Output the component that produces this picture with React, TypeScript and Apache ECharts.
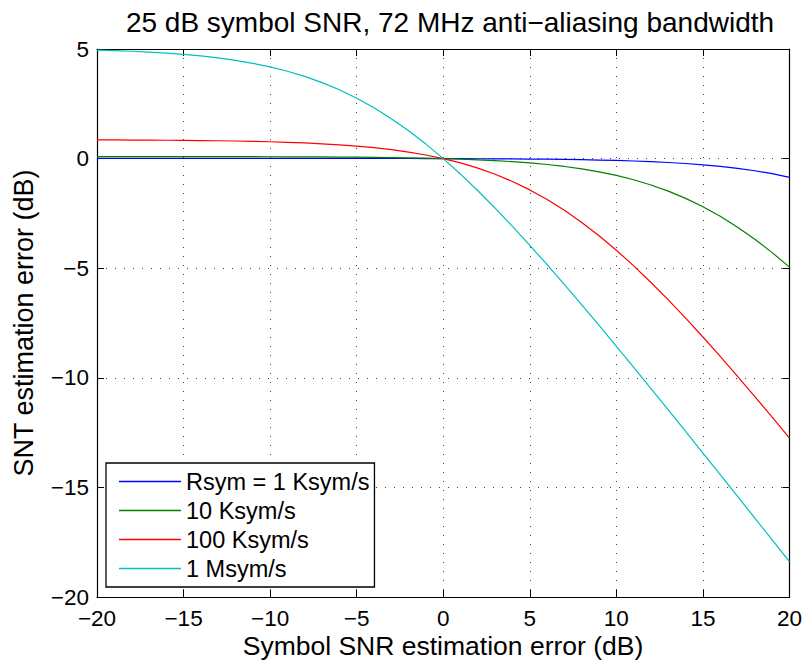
import React, { useEffect, useRef } from "react";
import * as echarts from "echarts";

const titleText = "25 dB symbol SNR, 72 MHz anti\u2212aliasing bandwidth";
const xName = "Symbol SNR estimation error (dB)";
const yName = "SNT estimation error (dB)";

const seriesNames = ["Rsym = 1 Ksym/s", "10 Ksym/s", "100 Ksym/s", "1 Msym/s"];
const seriesColors = ["#0000ff", "#008000", "#ff0000", "#00bfbf"];

const xs = [
  -20, -19, -18, -17, -16, -15, -14, -13, -12, -11, -10, -9, -8, -7, -6, -5, -4, -3, -2, -1, 0,
  1, 2, 3, 4, 5, 6, 7, 8, 9, 10, 11, 12, 13, 14, 15, 16, 17, 18, 19, 20,
];

const blue = [
  0.009, 0.009, 0.009, 0.009, 0.009, 0.009, 0.009, 0.009, 0.009, 0.009, 0.009, 0.008, 0.008, 0.008,
  0.007, 0.007, 0.006, 0.005, 0.004, 0.002, 0,
  -0.003, -0.006, -0.01, -0.014, -0.021, -0.028, -0.038, -0.05, -0.066, -0.085, -0.109, -0.139,
  -0.177, -0.224, -0.282, -0.355, -0.444, -0.554, -0.689, -0.853,
];

const green = [
  0.093, 0.093, 0.093, 0.092, 0.092, 0.091, 0.091, 0.09, 0.088, 0.087, 0.085, 0.082, 0.079, 0.075,
  0.07, 0.064, 0.056, 0.047, 0.034, 0.019, 0,
  -0.024, -0.054, -0.092, -0.139, -0.197, -0.27, -0.359, -0.469, -0.604, -0.768, -0.966, -1.203,
  -1.484, -1.814, -2.196, -2.634, -3.129, -3.682, -4.29, -4.952,
];

const red = [
  0.853, 0.85, 0.847, 0.843, 0.838, 0.832, 0.824, 0.815, 0.802, 0.787, 0.768, 0.744, 0.714, 0.676,
  0.629, 0.571, 0.498, 0.409, 0.299, 0.164, 0,
  -0.198, -0.435, -0.716, -1.046, -1.428, -1.866, -2.361, -2.914, -3.522, -4.184, -4.895, -5.651,
  -6.447, -7.278, -8.138, -9.024, -9.932, -10.857, -11.796, -12.748,
];

const cyan = [
  4.952, 4.928, 4.898, 4.86, 4.813, 4.754, 4.682, 4.593, 4.483, 4.348, 4.184, 3.986, 3.749, 3.468,
  3.138, 2.756, 2.318, 1.823, 1.27, 0.662, 0,
  -0.711, -1.467, -2.263, -3.094, -3.955, -4.84, -5.748, -6.673, -7.612, -8.564, -9.524, -10.493,
  -11.468, -12.448, -13.432, -14.42, -15.409, -16.401, -17.395, -18.39,
];

const allValues = [blue, green, red, cyan];

const FONT = "'Liberation Sans', Arial, Helvetica, sans-serif";

const fmt = (v: number) => (v < 0 ? "\u2212" + Math.abs(v) : String(v));

export default function App() {
  const ref = useRef<HTMLDivElement>(null);
  useEffect(() => {
    if (!ref.current) return;
    const chart = echarts.init(ref.current, undefined, { renderer: "svg" });
    const gridLine = { show: true, lineStyle: { color: "#444", width: 1, type: [1, 8] as any } };
    const axisLine = { show: true, onZero: false, lineStyle: { color: "#000", width: 1.2 } };
    const tick = { show: true, inside: true, length: 7, lineStyle: { color: "#000", width: 1 } };
    const option: any = {
      animation: false,
      backgroundColor: "#fff",
      grid: { left: 97, right: 15, top: 49, bottom: 65, containLabel: false },
      xAxis: [
        {
          type: "value", min: -20, max: 20, interval: 5, position: "bottom",
          axisLine, axisTick: tick, splitLine: gridLine,
          axisLabel: { formatter: fmt, color: "#000", fontSize: 22.5, fontFamily: FONT, margin: 10 },
        },
        {
          type: "value", min: -20, max: 20, interval: 5, position: "top",
          axisLine, axisTick: tick, splitLine: { show: false }, axisLabel: { show: false },
        },
      ],
      yAxis: [
        {
          type: "value", min: -20, max: 5, interval: 5, position: "left",
          axisLine, axisTick: tick, splitLine: gridLine,
          axisLabel: { formatter: fmt, color: "#000", fontSize: 22.5, fontFamily: FONT, margin: 8 },
        },
        {
          type: "value", min: -20, max: 5, interval: 5, position: "right",
          axisLine, axisTick: tick, splitLine: { show: false }, axisLabel: { show: false },
        },
      ],
      legend: {
        orient: "vertical",
        left: 106,
        top: 463,
        padding: [4, 5, 4, 13],
        itemGap: 0,
        itemWidth: 62,
        itemHeight: 1.4,
        icon: "rect",
        itemStyle: { borderWidth: 0, opacity: 1 },
        borderColor: "#000",
        borderWidth: 1.3,
        backgroundColor: "#fff",
        textStyle: { color: "#000", fontSize: 23.5, fontFamily: FONT, lineHeight: 29 },
        data: seriesNames.map((n, i) => ({ name: n, itemStyle: { color: seriesColors[i], borderWidth: 0 } })),
      },
      series: allValues.map((vals, i) => ({
        name: seriesNames[i],
        type: "line",
        xAxisIndex: 0,
        yAxisIndex: 0,
        showSymbol: false,
        symbol: "none",
        color: seriesColors[i],
        itemStyle: { color: seriesColors[i] },
        lineStyle: { color: seriesColors[i], width: 1.2 },
        data: xs.map((x, k) => [x, vals[k]]),
      })),
      graphic: [
        {
          type: "text", x: 450, y: 22,
          style: { text: titleText, font: `28px ${FONT}`, fill: "#000", textAlign: "center", textVerticalAlign: "middle" },
        },
        {
          type: "text", x: 443, y: 646,
          style: { text: xName, font: `26.5px ${FONT}`, fill: "#000", textAlign: "center", textVerticalAlign: "middle" },
        },
        {
          type: "text", x: 24, y: 323, rotation: Math.PI / 2,
          style: { text: yName, font: `27px ${FONT}`, fill: "#000", textAlign: "center", textVerticalAlign: "middle" },
        },
      ],
    };
    chart.setOption(option);
    return () => chart.dispose();
  }, []);
  return (
    <div
      ref={ref}
      style={{ position: "absolute", left: 0, top: 0, width: 805, height: 662, background: "#fff" }}
    />
  );
}
